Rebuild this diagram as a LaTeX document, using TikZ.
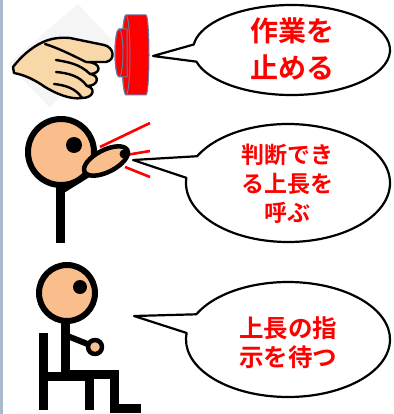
\documentclass[tikz,border=0pt]{standalone}
\usepackage{fontspec}
\newfontfamily\jpfont{Noto Sans CJK JP}[BoldFont={Noto Sans CJK JP Bold}]
\usetikzlibrary{shapes.geometric}

\definecolor{skin}{RGB}{250,190,140}
\definecolor{handskin}{RGB}{248,215,168}
\definecolor{knob}{RGB}{104,120,165}
\definecolor{edge}{RGB}{170,186,206}

\begin{document}
\begin{tikzpicture}[x=1pt,y=1pt,line cap=round,line join=round,
bubble/.style={draw=black,line width=2.2pt,fill=white},
says/.style={text=red,font=\jpfont\bfseries,align=center},
stick/.style={line width=9pt,line cap=butt},
head/.style={fill=skin,draw=black,line width=6pt},
ray/.style={red,line width=2.6pt,line cap=butt}
]
\useasboundingbox (0,0) rectangle (393,-414);
\fill[edge] (0,0) rectangle (3,-414);

% button and pointing hand
\fill[black!4] (78,-4) -- (8,-64) -- (50,-108) -- (112,-40) -- cycle;
\draw[knob,fill=red,line width=1pt] (126,-15) -- (146,-15)
  arc[start angle=90,end angle=-90,x radius=3,y radius=40] -- (126,-95)
  arc[start angle=270,end angle=90,x radius=4,y radius=40] -- cycle;
\draw[knob,line width=1pt] (126,-55) ellipse (4 and 40);
\draw[knob,fill=red,line width=1pt] (119,-29) -- (127,-29) -- (127,-77) -- (119,-77)
  arc[start angle=270,end angle=90,x radius=4,y radius=24];
\draw[knob,line width=1pt] (119,-53) ellipse (4 and 24);
\draw[fill=handskin,line width=2.4pt] (13,-67) .. controls (20,-58) and (30,-48) .. (43,-42)
  .. controls (50,-39) and (58,-37) .. (70,-38) -- (104,-45)
  .. controls (114,-47) and (116,-60) .. (106,-62) -- (86,-62)
  .. controls (102,-62) and (102,-74) .. (90,-74)
  .. controls (100,-75) and (99,-86) .. (87,-86)
  .. controls (96,-88) and (94,-98) .. (82,-98)
  .. controls (70,-100) and (55,-93) .. (45,-87)
  .. controls (35,-80) and (25,-75) .. (14,-73) -- cycle;
\draw[line width=2.4pt] (45,-44) .. controls (58,-48) and (72,-55) .. (86,-62);
\draw[line width=2.4pt] (56,-60) .. controls (68,-62) and (80,-64) .. (90,-74);
\draw[line width=2.4pt] (56,-72) .. controls (68,-73) and (80,-76) .. (87,-86);
\draw[line width=2.4pt] (54,-84) .. controls (64,-85) and (76,-88) .. (82,-98);

% shouting man
\draw[ray] (100,-147) -- (150,-123);
\draw[ray] (126,-155) -- (150,-151);
\draw[ray] (125,-167) -- (150,-177);
\draw[stick] (60,-182) -- (60,-243);
\draw[line width=6pt] (63,-190) -- (92,-172);
\draw[head] (61,-152) circle (33);
\fill (74,-145) circle (8);
\draw[fill=skin,line width=4.5pt,rotate around={27:(106,-161)}] (106,-161) ellipse (24 and 11);
\fill (124,-154) circle (4.5);

% seated man
\draw[stick] (43,-333) -- (43,-410);
\draw[stick] (43,-376) -- (89,-376) -- (89,-410);
\draw[stick,line join=miter] (65,-323) -- (65,-374) -- (114,-374) -- (114,-408) -- (141,-408);
\draw[line width=6pt] (65,-335) -- (90,-345);
\draw[head] (67,-293) circle (28);
\fill (80,-287) circle (7);
\draw[fill=skin,line width=4.5pt] (95,-347) circle (7);

% speech bubbles
\coordinate (tip1) at (153,-56);
\coordinate (tip2) at (133,-160);
\coordinate (tip3) at (134,-316);
\draw[bubble] (291.5,-50) ++(195:98.5 and 45)
  arc[start angle=195,end angle=533,x radius=98.5,y radius=45] -- (tip1) -- cycle;
\draw[bubble] (288,-183) ++(175:102 and 59)
  arc[start angle=175,end angle=513,x radius=102,y radius=59] -- (tip2) -- cycle;
\draw[bubble] (288,-339.5) ++(173.5:102 and 57.5)
  arc[start angle=173.5,end angle=514,x radius=102,y radius=57.5] -- (tip3) -- cycle;

\node[says,font=\jpfont\bfseries\fontsize{28}{37}\selectfont] (stop) at (292,-49) {作業を\\止める};
\node[says,font=\jpfont\bfseries\fontsize{23}{29}\selectfont] (call) at (287,-184) {判断でき\\る上長を\\呼ぶ};
\node[says,font=\jpfont\bfseries\fontsize{24.5}{29}\selectfont] (wait) at (288,-342.5) {上長の指\\示を待つ};
\end{tikzpicture}
\end{document}
